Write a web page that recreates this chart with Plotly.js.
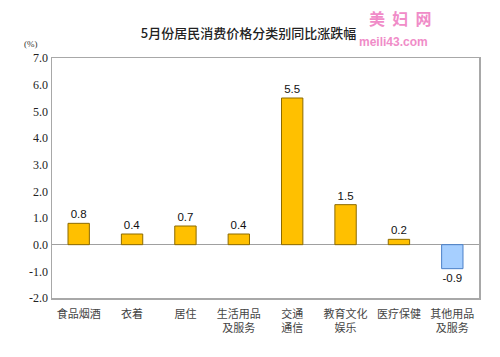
<!DOCTYPE html>
<html><head><meta charset="utf-8">
<script src="https://cdn.plot.ly/plotly-3.0.1.min.js"></script>
<style>html,body{margin:0;padding:0;background:#fff;}#c{width:500px;height:357px;}</style>
</head><body><div id="c"></div>
<script>
const categories = ["食品烟酒","衣着","居住","生活用品<br>及服务","交通<br>通信","教育文化<br>娱乐","医疗保健","其他用品<br>及服务"];
const values = [0.8, 0.4, 0.7, 0.4, 5.5, 1.5, 0.2, -0.9];
const yTicks = [-2,-1,0,1,2,3,4,5,6,7];
const yTickLabels = ["-2.0","-1.0","0.0","1.0","2.0","3.0","4.0","5.0","6.0","7.0"];

const fill = values.map(v => v >= 0 ? "#FFC000" : "#A6CFFF");
const edge = values.map(v => v >= 0 ? "#8C6A00" : "#4A7FC8");

const trace = {
  type: "bar", x: categories, y: values,
  marker: {color: fill, line: {color: edge, width: 1}},
  text: values.map(v => v.toFixed(1)), textposition: "outside",
  textfont: {family: "Liberation Sans, Arial", size: 11.5, color: "#111"},
  cliponaxis: false, hoverinfo: "none"
};
const layout = {
  width: 500, height: 357,
  margin: {l: 52, r: 21, t: 58, b: 59},
  paper_bgcolor: "#fff", plot_bgcolor: "#fff",
  bargap: 0.6, showlegend: false,
  title: {text: "5月份居民消费价格分类别同比涨跌幅", x: 0.497, xanchor: "center", y: 0.905, yanchor: "middle",
          font: {family: "Noto Sans CJK SC", size: 13, color: "#222", weight: 500}},
  xaxis: {showline: true, mirror: true, linecolor: "#A8A8A8", linewidth: 1.5, ticks: "", ticklabelstandoff: 5,
          tickfont: {family: "Noto Sans CJK SC", size: 11, color: "#444"}, fixedrange: true},
  yaxis: {range: [-2, 7], tickvals: yTicks, ticktext: yTickLabels, showgrid: false,
          showline: true, mirror: true, linecolor: "#A8A8A8", linewidth: 1.5,
          zeroline: true, zerolinecolor: "#A0A0A0", zerolinewidth: 1.2, ticks: "",
          tickfont: {family: "Liberation Serif, Times New Roman", size: 12, color: "#222"}, fixedrange: true},
  annotations: [
    {text: "(%)", xref: "paper", yref: "paper", x: -0.05, y: 1.06, xanchor: "center", yanchor: "middle",
     showarrow: false, font: {family: "Liberation Serif", size: 9, color: "#333"}},
    {text: "<b>美  妇  网</b>", xref: "paper", yref: "paper", x: 0.815, y: 1.167, xanchor: "center", yanchor: "middle",
     showarrow: false, font: {family: "Noto Sans CJK SC", size: 16, color: "#F08CC8"}},
    {text: "<b>meili43.com</b>", xref: "paper", yref: "paper", x: 0.80, y: 1.067, xanchor: "center", yanchor: "middle",
     showarrow: false, font: {family: "Liberation Sans", size: 12, color: "#F08CC8"}}
  ]
};
Plotly.newPlot("c", [trace], layout, {displayModeBar: false, staticPlot: true});
</script></body></html>
